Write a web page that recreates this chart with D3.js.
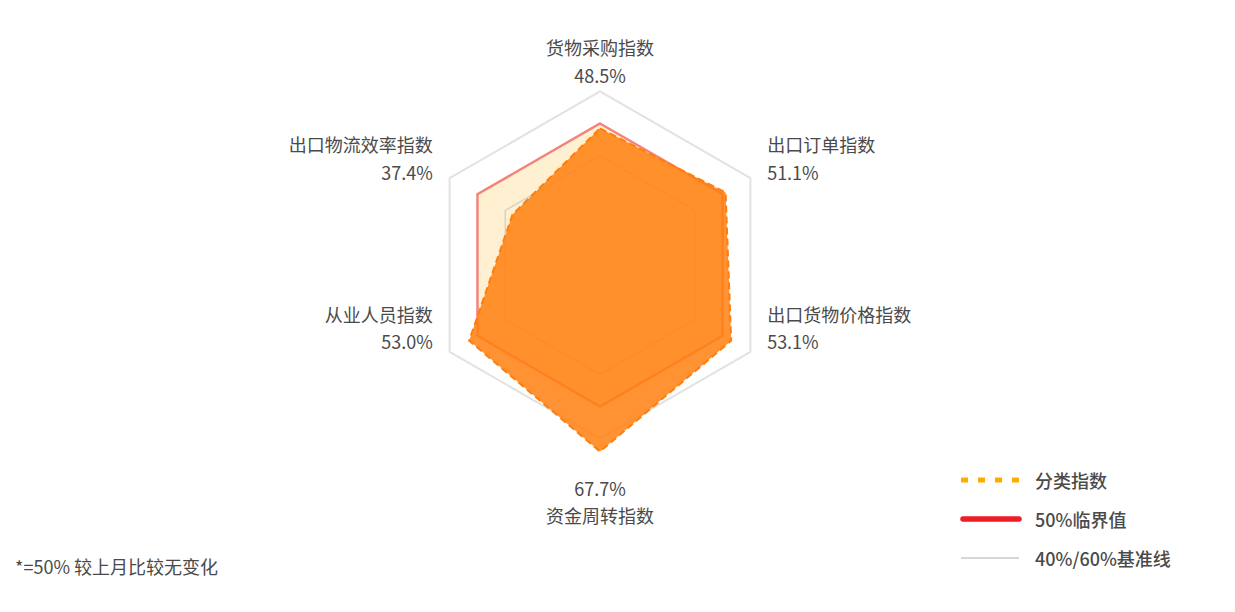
<!DOCTYPE html>
<html lang="zh">
  <head>
    <meta charset="UTF-8" />
    <title>出口指数雷达图</title>
    <script src="https://d3js.org/d3.v7.min.js"></script>
    <style>
      body {
        margin: 0;
        background: #fff;
        font-family: "Noto Sans CJK SC", "Noto Sans", sans-serif;
      }
    </style>
  </head>
  <body>
    <svg id="radar" width="1235" height="612"></svg>
    <script>
      // Data
      const indicators = [
        "货物采购指数",
        "出口订单指数",
        "出口货物价格指数",
        "资金周转指数",
        "从业人员指数",
        "出口物流效率指数",
      ];
      const values = [48.5, 51.1, 53.1, 67.7, 53.0, 37.4];
      const threshold = 50;
      const baseLines = [40, 60];
      const legendLabels = ["分类指数", "50%临界值", "40%/60%基准线"];
      const footnote = "*=50% 较上月比较无变化";

      const cx = 600,
        cy = 265;
      const svg = d3.select("#radar");
      const g = svg.append("g").attr("transform", `translate(${cx},${cy})`);

      // radius scale, values past the top are capped
      const r = d3.scaleLinear().domain([6, 64]).range([0, 186.5]).clamp(true);
      const angle = (i) => (i * 2 * Math.PI) / indicators.length;

      const ring = (v) =>
        d3
          .lineRadial()
          .angle((d, i) => angle(i))
          .radius(() => r(v))
          .curve(d3.curveLinearClosed)(indicators);

      // 60% outer base line
      g.append("path")
        .attr("d", ring(baseLines[1]))
        .attr("fill", "none")
        .attr("stroke", "#e2e2e2")
        .attr("stroke-width", 2);

      // 50% threshold
      g.append("path")
        .attr("d", ring(threshold))
        .attr("fill", "#fff0d2")
        .attr("stroke", "#f3847c")
        .attr("stroke-width", 2.5);

      // 40% inner base line
      g.append("path")
        .attr("d", ring(baseLines[0]))
        .attr("fill", "none")
        .attr("stroke", "#d8d2c4")
        .attr("stroke-width", 1.5);

      // data polygon
      const dataLine = d3
        .lineRadial()
        .angle((d, i) => angle(i))
        .radius((d) => r(d))
        .curve(d3.curveLinearClosed);

      g.append("path")
        .datum(values)
        .attr("d", dataLine)
        .attr("fill", "#ff8010")
        .attr("fill-opacity", 0.86)
        .attr("stroke", "#ff7d0a")
        .attr("stroke-width", 2)
        .attr("stroke-dasharray", "7,4");

      // axis labels
      const labelR = 193;
      indicators.forEach((name, i) => {
        const a = angle(i);
        const x = labelR * Math.sin(a);
        const y = -labelR * Math.cos(a);
        const c = Math.cos(a);
        let anchor = "middle";
        if (x > 1) anchor = "start";
        if (x < -1) anchor = "end";
        let nameY, valY;
        if (c < -0.9) {
          valY = y + 30;
          nameY = y + 57;
        } else if (c < 0) {
          nameY = y - 48;
          valY = y - 21;
        } else {
          nameY = y - 25;
          valY = y + 3;
        }
        const lbl = g.append("g").attr("fill", "#4a4a4a").attr("font-size", 18);
        lbl
          .append("text")
          .attr("x", x)
          .attr("y", nameY)
          .attr("text-anchor", anchor)
          .attr("dominant-baseline", "central")
          .text(name);
        lbl
          .append("text")
          .attr("x", x)
          .attr("y", valY)
          .attr("text-anchor", anchor)
          .attr("dominant-baseline", "central")
          .text(d3.format(".1f")(values[i]) + "%");
      });

      // legend
      const legendStyles = [
        { stroke: "#ffab00", width: 5, dash: "7,10", cap: "butt" },
        { stroke: "#ee1c25", width: 5.5, dash: null, cap: "round" },
        { stroke: "#c8c8c8", width: 1.5, dash: null, cap: "butt" },
      ];
      const legend = svg.append("g").attr("transform", "translate(961,480)");
      legendLabels.forEach((label, i) => {
        const s = legendStyles[i];
        const row = legend.append("g").attr("transform", `translate(0,${i * 39})`);
        row
          .append("line")
          .attr("x1", s.cap === "round" ? 2 : 0)
          .attr("x2", 58)
          .attr("stroke", s.stroke)
          .attr("stroke-width", s.width)
          .attr("stroke-linecap", s.cap)
          .attr("stroke-dasharray", s.dash);
        row
          .append("text")
          .attr("x", 74)
          .attr("dominant-baseline", "central")
          .attr("fill", "#4a4a4a")
          .attr("font-size", 18)
          .attr("font-weight", 500)
          .text(label);
      });

      // footnote
      svg
        .append("text")
        .attr("x", 15)
        .attr("y", 566)
        .attr("dominant-baseline", "central")
        .attr("fill", "#4a4a4a")
        .attr("font-size", 18)
        .text(footnote);
    </script>
  </body>
</html>
